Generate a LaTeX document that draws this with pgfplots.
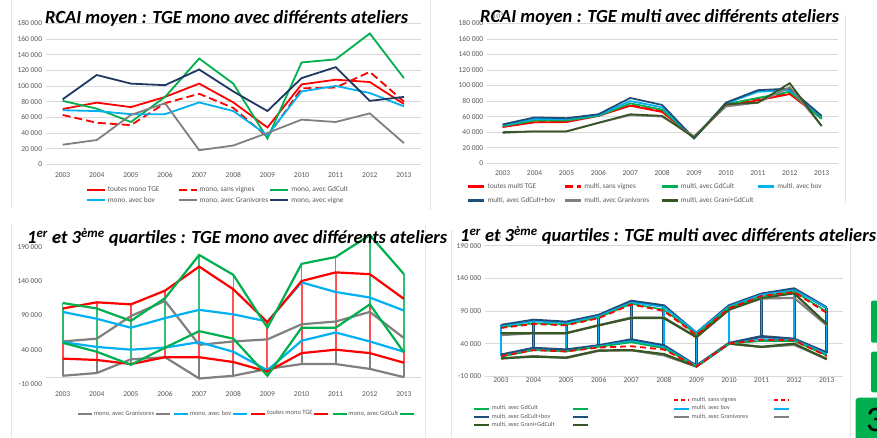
\documentclass[border=0pt]{standalone}
\usepackage{fontspec}
\setmainfont{Carlito}
\usepackage{pgfplots}
\pgfplotsset{compat=1.18}
\usepackage{pgfplotstable}

\definecolor{cred}{HTML}{FF0000}
\definecolor{cgreen}{HTML}{00B050}
\definecolor{cblue}{HTML}{00B0F0}
\definecolor{cgray}{HTML}{808080}
\definecolor{cnavy}{HTML}{203864}
\definecolor{cnavyb}{HTML}{1F4E79}
\definecolor{colive}{HTML}{375623}
\definecolor{cgrid}{HTML}{D9D9D9}
\definecolor{ctick}{HTML}{595959}
\definecolor{cframe}{HTML}{E3E3E3}

% top-left : RCAI moyen mono
\pgfplotstableread{
x a b c d e f
0 70600 63000 81000 69000 25000 83000
1 78700 53000 71000 68000 31000 114000
2 73000 50000 54000 64000 63000 103000
3 86000 78000 86000 64000 78000 101000
4 103000 90000 135000 79000 18000 121000
5 79000 72000 103000 68000 24000 93000
6 47000 35000 33000 37000 40000 68000
7 102000 97000 130000 93000 57000 110000
8 108000 98000 134000 100000 54000 124000
9 105000 118000 167000 91000 65000 81000
10 77000 80000 110000 74000 27000 86000
}\tl
% top-right : RCAI moyen multi
\pgfplotstableread{
x a b c d e f g
0 46700 47000 48000 49000 50000 39000 40000
1 52700 53000 55000 57000 59000 41000 41000
2 53000 54000 55000 57000 58000 41000 41000
3 61000 61000 61000 62000 63000 52000 52000
4 74000 75000 77000 80000 84000 62000 63000
5 66000 67000 69000 72000 75000 60000 61000
6 33000 34000 32000 33000 32000 35000 33000
7 74000 75000 76000 77000 78000 73000 76000
8 81000 83000 84000 92000 94000 78000 78000
9 89000 90000 92000 94000 96000 98000 103000
10 58000 58000 57000 60000 61000 48000 48000
}\tr
% bottom-left : quartiles mono
\pgfplotstableread{
x g1 g3 b1 b3 r1 r3 v1 v3
0 2000 52000 51000 95000 27000 100000 50000 108000
1 6000 56000 44000 85000 25000 109000 37000 100000
2 26000 89000 40000 72000 19000 106000 18000 82000
3 29000 111000 43000 86000 29000 126000 43000 115000
4 -2000 47000 51000 98000 29000 161000 67000 178000
5 2000 52000 37000 91500 22000 128000 56000 149000
6 12000 55000 10000 81000 8000 80000 2000 72000
7 19000 77000 53000 138000 35000 140000 72000 165000
8 19000 81000 65000 124000 40000 152600 72000 175000
9 12000 95000 52000 116000 35000 150000 106000 207000
10 0 57000 37000 97000 21000 114000 36000 150000
}\bl
% bottom-right : quartiles multi
\pgfplotstableread{
x sv1 sv3 gd1 gd3 bo1 bo3 gb1 gb3 gr1 gr3 gg1 gg3
0 21000 64000 20000 65000 21000 66500 22700 68000 17000 53000 17600 56000
1 30000 70000 30000 71000 31000 74000 33000 76000 21000 56000 20000 56000
2 28000 68000 28000 69000 28000 71000 30500 73000 18000 56000 18600 56000
3 34000 79000 35000 80000 36000 82000 37000 83500 29000 68000 29500 68000
4 36000 100000 42000 101000 44000 103000 46000 105000 30000 80000 30000 79000
5 31000 90000 33000 92000 35000 96000 37000 98000 22000 80000 24000 79000
6 5000 53000 5000 54000 6000 57000 6000 56000 5000 50000 5000 50000
7 40000 94000 40000 95000 40000 97000 40500 98000 40000 92000 40000 92000
8 46000 113000 44000 112000 47000 115000 51000 116000 35000 109000 35000 110000
9 45000 119000 44000 120000 46000 122000 47000 124000 38000 110000 40000 117000
10 21000 87000 22000 89000 24000 95000 26000 95000 17000 68000 16000 70000
}\br

\pgfplotsset{
  panel/.style={
    scale only axis, anchor=south west,
    xmin=-0.5, xmax=10.5,
    xtick={0,...,10},
    xticklabels={2003,2004,2005,2006,2007,2008,2009,2010,2011,2012,2013},
    axis line style={draw=none},
    major tick length=0pt,
    tick label style={font=\fontsize{7.5}{8}\selectfont, text=ctick},
    /pgf/number format/assume math mode=true,
    grid style={cgrid, line width=0.6pt},
    legend cell align=left,
    legend style={draw=none, fill=none, inner sep=0pt, outer sep=0pt,
      column sep=0pt, text=ctick},
    unbounded coords=jump,
  },
  vbar/.style={forget plot, mark=none, #1},
}
\newcommand\ttl[1]{{\fontsize{18.5}{20}\selectfont\bfseries\itshape #1}}

\begin{document}
\begin{tikzpicture}[x=1pt,y=1pt]
\path[fill=white, use as bounding box] (0,0) rectangle (877,437);

% frames
\draw[cframe, line width=0.7pt] (11,437) -- (11,229) (430,437) -- (430,227);
\draw[cframe, line width=0.7pt] (845,422) -- (845,234);
\draw[cframe, line width=0.7pt] (11.7,212) -- (11.7,0) (425,212) -- (425,0);
\draw[cframe, line width=0.7pt] (451.7,207) -- (451.7,0) (850,207) -- (850,0);

% ---------------- top-left
\begin{axis}[panel, at={(45.6pt,272.7pt)}, width=375.4pt, height=141pt,
  ymin=0, ymax=180000, ytick={0,20000,...,180000},
  yticklabels={0,20 000,40 000,60 000,80 000,100 000,120 000,140 000,160 000,180 000},
  ymajorgrids,
  xticklabel style={yshift=-5pt},
  legend columns=3,
  legend style={at={(0.1076,0)}, anchor=north west, yshift=-20pt,
    font=\fontsize{7.4}{8}\selectfont, row sep=0pt},
  legend image code/.code={\draw[#1] (0pt,0pt) -- (18pt,0pt);},
  every axis plot/.append style={line width=1.8pt},
]
\addplot[cred] table[x=x,y=a]{\tl}; \addlegendentry{\makebox[68pt][l]{toutes mono TGE}}
\addplot[cred, dash pattern=on 8pt off 4pt] table[x=x,y=b]{\tl}; \addlegendentry{\makebox[68pt][l]{mono, sans vignes}}
\addplot[cgreen] table[x=x,y=c]{\tl}; \addlegendentry{mono, avec GdCult}
\addplot[cblue] table[x=x,y=d]{\tl}; \addlegendentry{\makebox[68pt][l]{mono, avec bov}}
\addplot[cgray] table[x=x,y=e]{\tl}; \addlegendentry{\makebox[68pt][l]{mono, avec Granivores}}
\addplot[cnavy] table[x=x,y=f]{\tl}; \addlegendentry{mono, avec vigne}
\end{axis}
\node[anchor=base west, inner sep=0pt] at (45,413.7) {\ttl{RCAI moyen : TGE mono avec différents ateliers}};

% ---------------- top-right
\begin{axis}[panel, at={(486.7pt,273.7pt)}, width=350.9pt, height=140pt,
  ymin=0, ymax=180000, ytick={0,20000,...,180000},
  yticklabels={0,20 000,40 000,60 000,80 000,100 000,120 000,140 000,160 000,180 000},
  ymajorgrids,
  xticklabel style={yshift=-3.5pt},
  legend columns=4,
  legend style={at={(-0.056,0)}, anchor=north west, yshift=-18pt,
    font=\fontsize{7.2}{8}\selectfont, row sep=3.5pt},
  legend image code/.code={\draw[#1] (0pt,0pt) -- (16pt,0pt);},
  legend image post style={line width=2.6pt},
  every axis plot/.append style={line width=1.8pt},
]
\addplot[cred] table[x=x,y=a]{\tr}; \addlegendentry{\makebox[74pt][l]{toutes multi TGE}}
\addplot[cred, dash pattern=on 8pt off 4pt] table[x=x,y=b]{\tr}; \addlegendentry{\makebox[74pt][l]{multi, sans vignes}}
\addplot[cgreen] table[x=x,y=c]{\tr}; \addlegendentry{\makebox[74pt][l]{multi, avec GdCult}}
\addplot[cblue] table[x=x,y=d]{\tr}; \addlegendentry{multi, avec bov}
\addplot[cnavyb] table[x=x,y=e]{\tr}; \addlegendentry{\makebox[74pt][l]{multi, avec GdCult+bov}}
\addplot[cgray] table[x=x,y=f]{\tr}; \addlegendentry{\makebox[74pt][l]{multi, avec Granivores}}
\addplot[colive] table[x=x,y=g]{\tr}; \addlegendentry{multi, avec Grani+GdCult}
\end{axis}
\node[anchor=base west, inner sep=0pt] at (480,414.3) {\ttl{RCAI moyen : TGE multi avec différents ateliers}};

% ---------------- bottom-left
\begin{axis}[panel, at={(45.6pt,53pt)}, width=375.4pt, height=137.3pt,
  ymin=-10000, ymax=190000, ytick={-10000,40000,90000,140000,190000},
  yticklabels={-10 000,40 000,90 000,140 000,190 000},
  extra y ticks={0}, extra y tick labels={}, extra y tick style={grid=major},
  xticklabel style={yshift=-4pt},
  clip=false,
  legend columns=8,
  legend style={at={(0.0836,0)}, anchor=north west, yshift=-26pt,
    font=\fontsize{6.5}{7}\selectfont, nodes={inner sep=0.6pt}},
  legend image code/.code={\draw[#1] (0pt,0pt) -- (14pt,0pt);},
  legend image post style={line width=2.2pt},
  every axis plot/.append style={line width=2.2pt},
]
% vertical high-low lines (Q1 to Q3)
\addplot[vbar={cgray, line width=2pt}] coordinates {(0,2000)(0,52000)(0,nan)(1,6000)(1,56000)(1,nan)(2,26000)(2,89000)(2,nan)(3,29000)(3,111000)(3,nan)(4,-2000)(4,47000)(4,nan)(5,2000)(5,52000)(5,nan)(6,12000)(6,55000)(6,nan)(7,19000)(7,77000)(7,nan)(8,19000)(8,81000)(8,nan)(9,12000)(9,95000)(9,nan)(10,0)(10,57000)};
\addplot[vbar={cblue, line width=2pt}] coordinates {(0,51000)(0,95000)(0,nan)(1,44000)(1,85000)(1,nan)(2,40000)(2,72000)(2,nan)(3,43000)(3,86000)(3,nan)(4,51000)(4,98000)(4,nan)(5,37000)(5,91500)(5,nan)(6,10000)(6,81000)(6,nan)(7,53000)(7,138000)(7,nan)(8,65000)(8,124000)(8,nan)(9,52000)(9,116000)(9,nan)(10,37000)(10,97000)};
\addplot[vbar={cred!70, line width=2pt}] coordinates {(0,27000)(0,100000)(0,nan)(1,25000)(1,109000)(1,nan)(2,19000)(2,106000)(2,nan)(3,29000)(3,126000)(3,nan)(4,29000)(4,161000)(4,nan)(5,22000)(5,128000)(5,nan)(6,8000)(6,80000)(6,nan)(7,35000)(7,140000)(7,nan)(8,40000)(8,152600)(8,nan)(9,35000)(9,150000)(9,nan)(10,21000)(10,114000)};
\addplot[vbar={cgreen!80, line width=1.6pt}] coordinates {(0,50000)(0,108000)(0,nan)(1,37000)(1,100000)(1,nan)(2,18000)(2,82000)(2,nan)(3,43000)(3,115000)(3,nan)(4,67000)(4,178000)(4,nan)(5,56000)(5,149000)(5,nan)(6,2000)(6,72000)(6,nan)(7,72000)(7,165000)(7,nan)(8,72000)(8,175000)(8,nan)(9,106000)(9,207000)(9,nan)(10,36000)(10,150000)};
\addplot[cgray] table[x=x,y=g1]{\bl}; \addlegendentry{mono, avec Granivores}
\addplot[cgray] table[x=x,y=g3]{\bl}; \addlegendentry{\makebox[1pt]{}}
\addplot[cblue] table[x=x,y=b1]{\bl}; \addlegendentry{mono, avec bov}
\addplot[cblue] table[x=x,y=b3]{\bl}; \addlegendentry{\makebox[1pt]{}}
\addplot[cred] table[x=x,y=r1]{\bl}; \addlegendentry{toutes mono TGE}
\addplot[cred] table[x=x,y=r3]{\bl}; \addlegendentry{\makebox[1pt]{}}
\addplot[cgreen] table[x=x,y=v1]{\bl}; \addlegendentry{mono, avec GdCult}
\addplot[cgreen] table[x=x,y=v3]{\bl}; \addlegendentry{\makebox[1pt]{}}
\end{axis}
\node[anchor=base west, inner sep=0pt] at (27,193.7) {\ttl{1\textsuperscript{er} et 3\textsuperscript{ème} quartiles : TGE mono avec différents ateliers}};

% ---------------- bottom-right
\begin{axis}[panel, at={(484.7pt,60.7pt)}, width=358.3pt, height=130.7pt,
  ymin=-10000, ymax=190000, ytick={-10000,40000,90000,140000,190000},
  yticklabels={-10 000,40 000,90 000,140 000,190 000},
  ymajorgrids,
  xticklabel style={yshift=2pt},
  legend columns=4,
  legend style={at={(-0.0327,0)}, anchor=north west, yshift=-19pt,
    font=\fontsize{6.2}{6.5}\selectfont, row sep=-1.5pt},
  legend image code/.code={\draw[#1] (0pt,0pt) -- (15pt,0pt);},
  legend image post style={line width=2pt},
  every axis plot/.append style={line width=2.2pt},
]
% vertical high-low lines (Q1 to Q3)
\addplot[vbar={cnavyb, line width=2.8pt}] coordinates {(0,22700)(0,68000)(0,nan)(1,33000)(1,76000)(1,nan)(2,30500)(2,73000)(2,nan)(3,37000)(3,83500)(3,nan)(4,46000)(4,105000)(4,nan)(5,37000)(5,98000)(5,nan)(6,6000)(6,56000)(6,nan)(7,40500)(7,98000)(7,nan)(8,51000)(8,116000)(8,nan)(9,47000)(9,124000)(9,nan)(10,26000)(10,95000)};
\addplot[vbar={cblue, line width=1.4pt}] coordinates {(0,21000)(0,66500)(0,nan)(1,31000)(1,74000)(1,nan)(2,28000)(2,71000)(2,nan)(3,36000)(3,82000)(3,nan)(4,44000)(4,103000)(4,nan)(5,35000)(5,96000)(5,nan)(6,6000)(6,57000)(6,nan)(7,40000)(7,97000)(7,nan)(8,47000)(8,115000)(8,nan)(9,46000)(9,122000)(9,nan)(10,24000)(10,95000)};
\addplot[forget plot, cgray] table[x=x,y=gr1]{\br};
\addplot[forget plot, cgray] table[x=x,y=gr3]{\br};
\addplot[forget plot, colive] table[x=x,y=gg1]{\br};
\addplot[forget plot, colive] table[x=x,y=gg3]{\br};
\addplot[forget plot, cnavyb, line width=2.8pt] table[x=x,y=gb1]{\br};
\addplot[forget plot, cnavyb, line width=2.8pt] table[x=x,y=gb3]{\br};
\addplot[forget plot, cblue, line width=1.5pt] table[x=x,y=bo1]{\br};
\addplot[forget plot, cblue, line width=1.5pt] table[x=x,y=bo3]{\br};
\addplot[forget plot, cgreen, line width=1.6pt] table[x=x,y=gd1]{\br};
\addplot[forget plot, cgreen, line width=1.6pt] table[x=x,y=gd3]{\br};
\addplot[forget plot, cred, line width=1.8pt, dash pattern=on 6pt off 4pt] table[x=x,y=sv1]{\br};
\addplot[forget plot, cred, line width=1.8pt, dash pattern=on 6pt off 4pt] table[x=x,y=sv3]{\br};
\addlegendimage{draw opacity=0}\addlegendentry{\makebox[78pt][l]{}}
\addlegendimage{draw opacity=0}\addlegendentry{\makebox[80pt][l]{}}
\addlegendimage{cred, dash pattern=on 4pt off 3pt}\addlegendentry{\makebox[79pt][l]{multi, sans vignes}}
\addlegendimage{cred, dash pattern=on 4pt off 3pt}\addlegendentry{}
\addlegendimage{cgreen, line width=1.2pt}\addlegendentry{\makebox[78pt][l]{multi, avec GdCult}}
\addlegendimage{cgreen}\addlegendentry{\makebox[80pt][l]{}}
\addlegendimage{cblue, line width=1.2pt}\addlegendentry{\makebox[79pt][l]{multi, avec bov}}
\addlegendimage{cblue}\addlegendentry{}
\addlegendimage{cnavyb}\addlegendentry{\makebox[78pt][l]{multi, avec GdCult+bov}}
\addlegendimage{cnavyb}\addlegendentry{\makebox[80pt][l]{}}
\addlegendimage{cgray, line width=1.2pt}\addlegendentry{\makebox[79pt][l]{multi, avec Granivores}}
\addlegendimage{cgray}\addlegendentry{}
\addlegendimage{colive}\addlegendentry{\makebox[78pt][l]{multi, avec Grani+GdCult}}
\addlegendimage{colive}\addlegendentry{\makebox[80pt][l]{}}
\end{axis}
\node[anchor=base west, inner sep=0pt] at (460,195.3) {\ttl{1\textsuperscript{er} et 3\textsuperscript{ème} quartiles : TGE multi avec différents ateliers}};

% right-edge decorations
\fill[cgreen, rounded corners=2pt] (871,136.3) rectangle (882,94.3);
\fill[cgreen, rounded corners=2pt] (871,85.3) rectangle (882,44.7);
\fill[cgreen, rounded corners=3pt] (855.7,39.3) rectangle (882,-5);
\node[anchor=west, font=\fontsize{36}{36}\selectfont, inner sep=0pt] at (866,17) {3};
\end{tikzpicture}
\end{document}
